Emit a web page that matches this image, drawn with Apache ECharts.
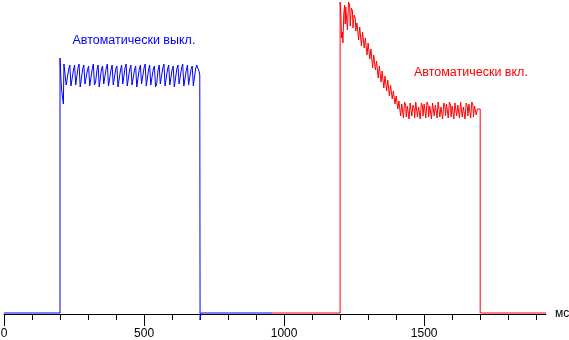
<!DOCTYPE html>
<html>
<head>
<meta charset="utf-8">
<script src="https://cdn.jsdelivr.net/npm/echarts@6/dist/echarts.min.js"></script>
<style>
html,body{margin:0;padding:0;background:#fff;}
#main{width:569px;height:340px;}
</style>
</head>
<body>
<div id="main"></div>
<script>
// время, мс / уровень сигнала (усл. ед.)
var xTicks = [0, 500, 1000, 1500];
var xMinorTicks = [100, 200, 300, 400, 600, 700, 800, 900, 1100, 1200, 1300, 1400, 1600, 1700, 1800, 1900];

// автоматически выкл.
var blueData = [
	[0,1],[200,1],[200,256],[202,242],[204,231],[206,224],[209,216],[212,210],
	[214,250],[218,251],[222,229],[226,231],
	[231,245],[235,249],[239,228],[243,230],
	[248,244],[252,249],[256,229],[260,231],
	[264,246],[268,250],[272,227],[276,229],
	[281,245],[285,249],[289,230],[293,231],
	[298,244],[302,248],[306,228],[310,230],
	[315,245],[319,250],[323,229],[327,232],
	[332,244],[336,249],[340,227],[344,229],
	[348,245],[352,248],[356,230],[360,231],
	[365,246],[369,250],[373,228],[377,230],
	[382,244],[386,249],[390,229],[394,231],
	[399,245],[403,248],[407,227],[411,229],
	[416,244],[420,249],[424,230],[428,232],
	[432,246],[436,250],[440,228],[444,230],
	[449,245],[453,249],[457,229],[461,231],
	[466,244],[470,248],[474,227],[478,229],
	[483,245],[487,249],[491,230],[495,231],
	[500,246],[504,250],[508,228],[512,230],
	[516,244],[520,249],[524,229],[528,231],
	[533,245],[537,248],[541,227],[545,230],
	[550,244],[554,249],[558,230],[562,231],
	[567,246],[571,250],[575,228],[579,230],
	[584,245],[588,249],[592,229],[596,231],
	[600,244],[604,248],[608,227],[612,229],
	[617,245],[621,249],[625,230],[629,232],
	[634,246],[638,250],[642,228],[646,230],
	[651,244],[655,249],[659,229],[663,231],
	[668,245],[672,248],[676,228],[680,230],
	[684,245],[688,249],[692,246],[696,243],[699,239],[700,-6],[703,1],[957,1]
];

// автоматически вкл.
var redData = [
	[957,1],[1200,1],[1200,312],[1203,298],[1205,276],[1208,282],[1210,271],[1213,300],[1216,309],[1218,290],
	[1220,307],[1224,305],[1226,284],
	[1230,312],[1234,309],[1236,288],
	[1240,306],[1244,303],[1246,286],
	[1250,299],[1254,296],[1256,283],
	[1260,291],[1264,289],[1266,274],
	[1270,287],[1274,285],[1276,268],
	[1280,282],[1284,280],[1286,266],
	[1290,276],[1294,274],[1296,259],
	[1300,271],[1304,269],[1306,255],
	[1310,265],[1314,263],[1316,246],
	[1320,259],[1324,257],[1326,244],
	[1330,253],[1334,251],[1336,236],
	[1340,248],[1344,246],[1346,232],
	[1350,243],[1354,241],[1356,226],
	[1360,238],[1364,236],[1366,223],
	[1370,234],[1374,232],[1376,218],
	[1380,229],[1384,227],[1386,215],
	[1390,223],[1394,221],[1396,210],
	[1400,218],[1404,216],[1406,205],
	[1410,213],[1414,211],[1416,198],
	[1420,210],[1424,208],[1426,196],
	[1430,212],[1434,209],[1436,197],
	[1440,208],[1444,207],[1446,195],
	[1450,211],[1454,209],[1456,198],
	[1460,209],[1464,206],[1466,196],
	[1470,212],[1474,210],[1476,197],
	[1480,207],[1484,206],[1486,195],
	[1490,211],[1494,208],[1496,198],
	[1500,210],[1504,208],[1506,196],
	[1510,212],[1514,209],[1516,197],
	[1520,208],[1524,206],[1526,195],
	[1530,211],[1534,209],[1536,198],
	[1540,209],[1544,207],[1546,196],
	[1550,212],[1554,210],[1556,197],
	[1560,207],[1564,206],[1566,195],
	[1570,211],[1574,208],[1576,198],
	[1580,210],[1584,208],[1586,196],
	[1590,212],[1594,209],[1596,197],
	[1600,208],[1604,206],[1606,195],
	[1610,211],[1614,209],[1616,198],
	[1620,209],[1624,207],[1626,196],
	[1630,212],[1634,210],[1636,197],
	[1640,207],[1644,206],[1646,195],
	[1650,211],[1654,208],[1656,198],
	[1660,210],[1664,208],[1666,196],
	[1670,212],[1674,209],[1676,197],
	[1680,208],[1684,206],[1686,199],
	[1690,205],[1694,207],[1697,206],[1700,205],[1700,1],[1935,1]
];

var labels = ['Автоматически выкл.', 'Автоматически вкл.'];

var chart = echarts.init(document.getElementById('main'));
var font = '"Liberation Sans", Arial, sans-serif';

var option = {
	animation: false,
	grid: {
		left: 4,
		right: 23,
		top: 0,
		bottom: 26,
		outerBoundsMode: 'none'
	},
	xAxis: [
		{
			type: 'value',
			min: 0,
			max: 1935,
			position: 'bottom',
			name: 'мс',
			nameLocation: 'end',
			nameGap: 9,
			nameTextStyle: {color: '#000', fontSize: 12, fontFamily: font},
			axisLine: {onZero: false, lineStyle: {color: '#000', width: 1}},
			axisTick: {show: true, length: 12, customValues: xTicks, lineStyle: {color: '#000'}},
			axisLabel: {
				customValues: xTicks,
				margin: 14,
				color: '#000',
				fontSize: 12,
				fontFamily: font,
				formatter: function (v) { return String(v); }
			},
			splitLine: {show: false}
		},
		{
			type: 'value',
			min: 0,
			max: 1935,
			position: 'bottom',
			axisLine: {show: false, onZero: false},
			axisTick: {show: true, length: 6, customValues: xMinorTicks, lineStyle: {color: '#000'}},
			axisLabel: {show: false},
			splitLine: {show: false}
		}
	],
	yAxis: {
		type: 'value',
		min: 0,
		max: 314,
		show: false,
		splitLine: {show: false}
	},
	graphic: [
		{
			type: 'text',
			x: 72.5,
			y: 40.5,
			style: {text: labels[0], fill: '#0000ff', font: '12.5px ' + font, verticalAlign: 'middle'}
		},
		{
			type: 'text',
			x: 414,
			y: 72.5,
			style: {text: labels[1], fill: '#ff0000', font: '12.5px ' + font, verticalAlign: 'middle'}
		}
	],
	series: [
		{
			type: 'line',
			data: blueData,
			showSymbol: false,
			symbol: 'none',
			clip: false,
			lineStyle: {color: '#0000ff', width: 1},
			z: 3
		},
		{
			type: 'line',
			data: redData,
			showSymbol: false,
			symbol: 'none',
			clip: false,
			lineStyle: {color: '#ff0000', width: 1},
			z: 3
		}
	]
};

chart.setOption(option);
</script>
</body>
</html>
